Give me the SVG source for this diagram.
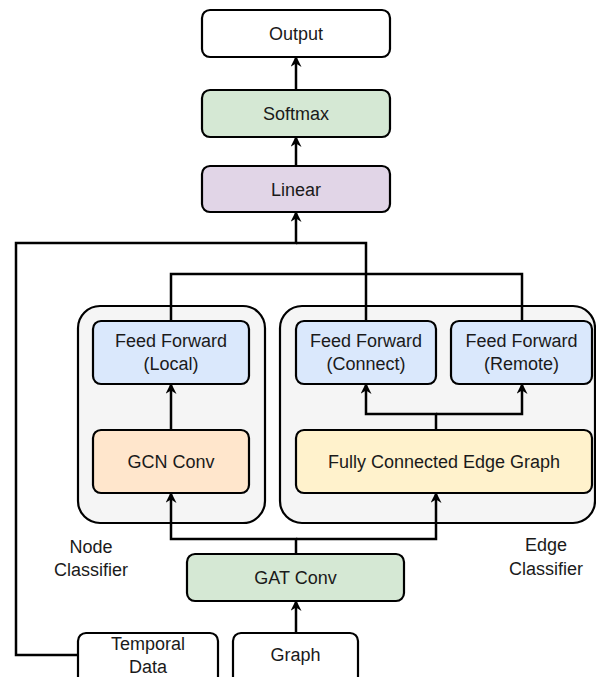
<svg xmlns="http://www.w3.org/2000/svg" width="596" height="677" viewBox="0 0 596 677">
<defs>
<style>
.box{stroke:#000;stroke-width:2.2}
.ct{fill:#f5f5f5;stroke:#000;stroke-width:2.2}
text{font-family:"Liberation Sans",Arial,sans-serif;font-size:18px;fill:#1a1a1a;text-anchor:middle}
.c{fill:none;stroke:#000;stroke-width:2.5}
</style>
<marker id="ah" viewBox="0 0 10 10" refX="9" refY="5" markerWidth="11" markerHeight="11" markerUnits="userSpaceOnUse" orient="auto">
<path d="M0,0 L10,5 L0,10 L3,5 z" fill="#000"/>
</marker>
</defs>
<rect width="596" height="677" fill="#fff"/>
<g id="node-classifier"><rect class="ct" x="78" y="306" width="187" height="217" rx="22"/></g>
<g id="edge-classifier"><rect class="ct" x="280" y="306" width="315" height="217" rx="22"/></g>
<g id="output"><rect class="box" fill="#fff" x="202" y="10" width="188" height="47" rx="8"/><text x="296" y="40">Output</text></g>
<g id="softmax"><rect class="box" fill="#d5e8d4" x="202" y="90" width="188" height="47" rx="8"/><text x="296" y="120">Softmax</text></g>
<g id="linear"><rect class="box" fill="#e1d5e7" x="202" y="166" width="188" height="46" rx="8"/><text x="296" y="196">Linear</text></g>
<g id="ff-local"><rect class="box" fill="#dae8fc" x="93" y="321" width="156" height="63" rx="8"/><text x="171" y="347">Feed Forward</text><text x="171" y="370">(Local)</text></g>
<g id="gcn"><rect class="box" fill="#ffe6cc" x="93" y="430" width="156" height="63" rx="8"/><text x="171" y="468">GCN Conv</text></g>
<g id="ff-connect"><rect class="box" fill="#dae8fc" x="296" y="321" width="140" height="63" rx="8"/><text x="366" y="347">Feed Forward</text><text x="366" y="370">(Connect)</text></g>
<g id="ff-remote"><rect class="box" fill="#dae8fc" x="451" y="321" width="141" height="63" rx="8"/><text x="521.5" y="347">Feed Forward</text><text x="521.5" y="370">(Remote)</text></g>
<g id="fceg"><rect class="box" fill="#fff2cc" x="296" y="430" width="296" height="63" rx="8"/><text x="444" y="468">Fully Connected Edge Graph</text></g>
<g id="gat"><rect class="box" fill="#d5e8d4" x="187" y="554" width="217" height="47" rx="8"/><text x="295.5" y="584">GAT Conv</text></g>
<g id="temporal"><rect class="box" fill="#fff" x="78" y="633" width="140" height="60" rx="8"/><text x="148" y="650">Temporal</text><text x="148" y="673">Data</text></g>
<g id="graph"><rect class="box" fill="#fff" x="233" y="633" width="125" height="60" rx="8"/><text x="295.5" y="661">Graph</text></g>
<g id="labels"><text x="91" y="553">Node</text><text x="91" y="576">Classifier</text><text x="546" y="551">Edge</text><text x="546" y="575">Classifier</text></g>
<g id="connectors">
<path class="c" d="M296 90 V57" marker-end="url(#ah)"/>
<path class="c" d="M296 166 V137" marker-end="url(#ah)"/>
<path class="c" d="M78 655 H16 V243 H296 V212" marker-end="url(#ah)"/>
<path class="c" d="M366 321 V243 H296"/>
<path class="c" d="M171 321 V274 H522 V321"/>
<path class="c" d="M171 430 V384" marker-end="url(#ah)"/>
<path class="c" d="M436 430 V414 H366 V384" marker-end="url(#ah)"/>
<path class="c" d="M436 414 H522 V384" marker-end="url(#ah)"/>
<path class="c" d="M296 554 V539 H171 V493" marker-end="url(#ah)"/>
<path class="c" d="M296 539 H436 V493" marker-end="url(#ah)"/>
<path class="c" d="M296 633 V601" marker-end="url(#ah)"/>
</g>
</svg>
